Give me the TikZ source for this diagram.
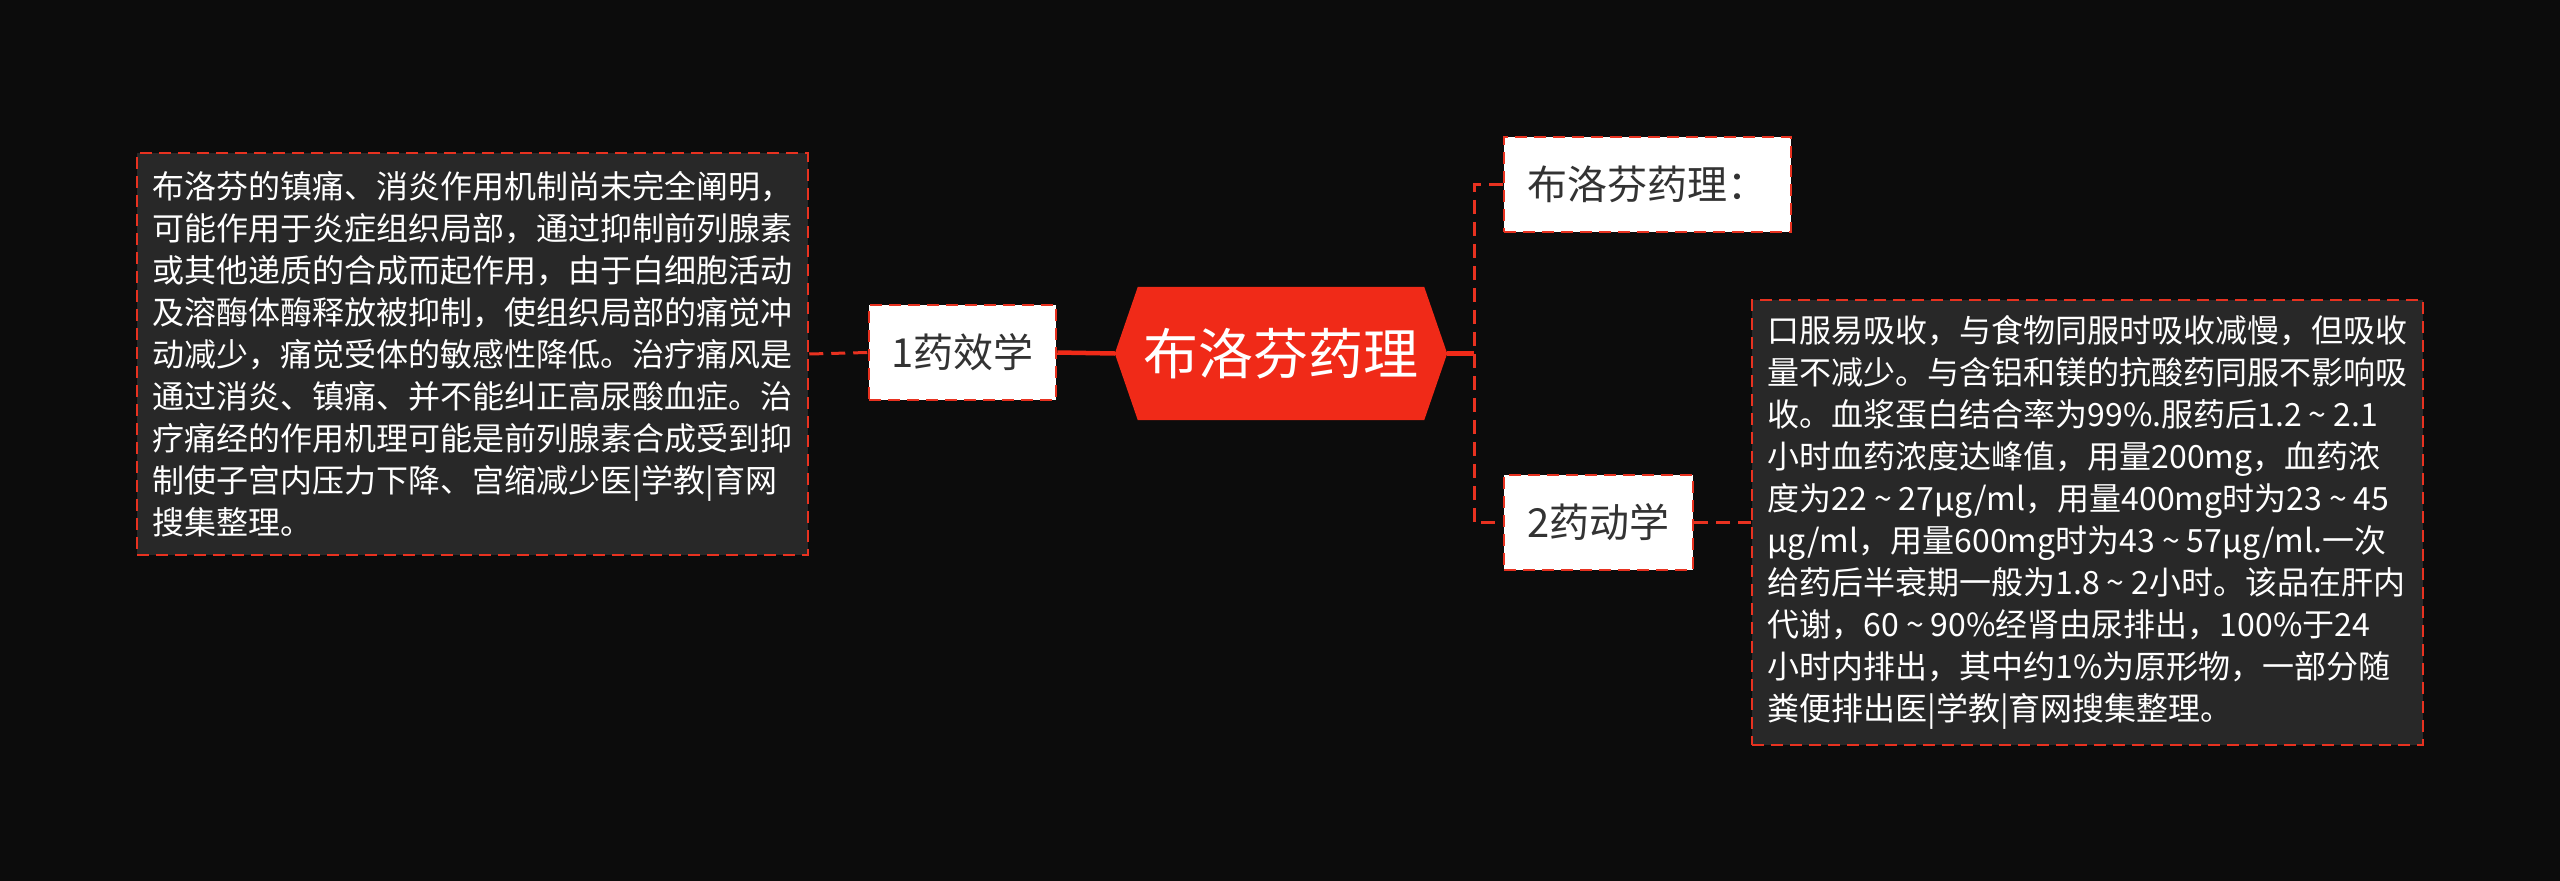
\documentclass[tikz,border=0pt]{standalone}
\usepackage{fontspec}
\setmainfont{Noto Sans CJK SC}
\usetikzlibrary{backgrounds}
\definecolor{bgc}{RGB}{12,12,12}
\definecolor{redc}{RGB}{240,42,24}
\definecolor{dashred}{RGB}{232,50,32}
\definecolor{boxc}{RGB}{40,40,40}
\definecolor{txtdark}{RGB}{51,51,51}
\newcommand\mytld{\hspace{0.22em}\textasciitilde\hspace{0.22em}}
\begin{document}
\begin{tikzpicture}[x=1pt,y=-1pt,
  textbox/.style={draw=dashred, line width=2.5pt, dash pattern=on 12pt off 7pt,
    fill=boxc, text=white, align=left, inner xsep=15pt,
    font=\fontsize{32pt}{42pt}\selectfont, minimum width=671pt},
  leafbox/.style={draw=dashred, line width=2.5pt, dash pattern=on 12pt off 7pt,
    fill=white, text=txtdark, font=\fontsize{40pt}{46pt}\selectfont,
    minimum height=95pt, inner xsep=0pt},
  hexnode/.style={inner sep=0pt, minimum width=332pt, minimum height=133pt,
    text=white, font=\fontsize{55pt}{60pt}\selectfont},
  solidline/.style={draw=redc, line width=4.5pt},
  dashline/.style={draw=dashred, line width=3pt, dash pattern=on 14pt off 8pt}
]
\begin{scope}[on background layer]
\fill[bgc] (0,0) rectangle (2560,881);
\end{scope}
\useasboundingbox (0,0) rectangle (2560,881);

% central hexagon
\node[hexnode] (c) at (1281,353.5) {布洛芬药理};
\begin{scope}[on background layer]
\fill[redc] (c.west) -- ([xshift=23pt]c.north west) -- ([xshift=-23pt]c.north east)
  -- (c.east) -- ([xshift=-23pt]c.south east) -- ([xshift=23pt]c.south west) -- cycle;
\end{scope}

% left branch
\node[leafbox, minimum width=187pt] (n1) at (962.5,352.5) {1药效学};
\node[textbox, minimum height=402pt] (t1) at (472.5,354) {布洛芬的镇痛、消炎作用机制尚未完全阐明，\\
可能作用于炎症组织局部，通过抑制前列腺素\\
或其他递质的合成而起作用，由于白细胞活动\\
及溶酶体酶释放被抑制，使组织局部的痛觉冲\\
动减少，痛觉受体的敏感性降低。治疗痛风是\\
通过消炎、镇痛、并不能纠正高尿酸血症。治\\
疗痛经的作用机理可能是前列腺素合成受到抑\\
制使子宫内压力下降、宫缩减少医|学教|育网\\
搜集整理。};

% right branch
\node[leafbox, minimum width=287pt] (n2) at (1647.5,184.5) {布洛芬药理：};
\node[leafbox, minimum width=189pt] (n3) at (1598.5,522.5) {2药动学};
\node[textbox, minimum height=445pt] (t3) at (2087.5,522.5) {口服易吸收，与食物同服时吸收减慢，但吸收\\
量不减少。与含铝和镁的抗酸药同服不影响吸\\
收。血浆蛋白结合率为99\%.服药后1.2\mytld 2.1\\
小时血药浓度达峰值，用量200mg，血药浓\\
度为22\mytld 27μg/ml，用量400mg时为23\mytld 45\\
μg/ml，用量600mg时为43\mytld 57μg/ml.一次\\
给药后半衰期一般为1.8\mytld 2小时。该品在肝内\\
代谢，60\mytld 90\%经肾由尿排出，100\%于24\\
小时内排出，其中约1\%为原形物，一部分随\\
粪便排出医|学教|育网搜集整理。};

% connectors
\coordinate (j) at (1474,353.5);
\draw[solidline] (n1.east) -- (c.west);
\draw[dashline] (t1.east) -- (n1.west);
\draw[solidline] (c.east) -- (j);
\draw[dashline] (n2.west) -- (n2.west -| j) -- (n3.west -| j) -- (n3.west);
\draw[dashline] (n3.east) -- (t3.west);
\end{tikzpicture}
\end{document}
